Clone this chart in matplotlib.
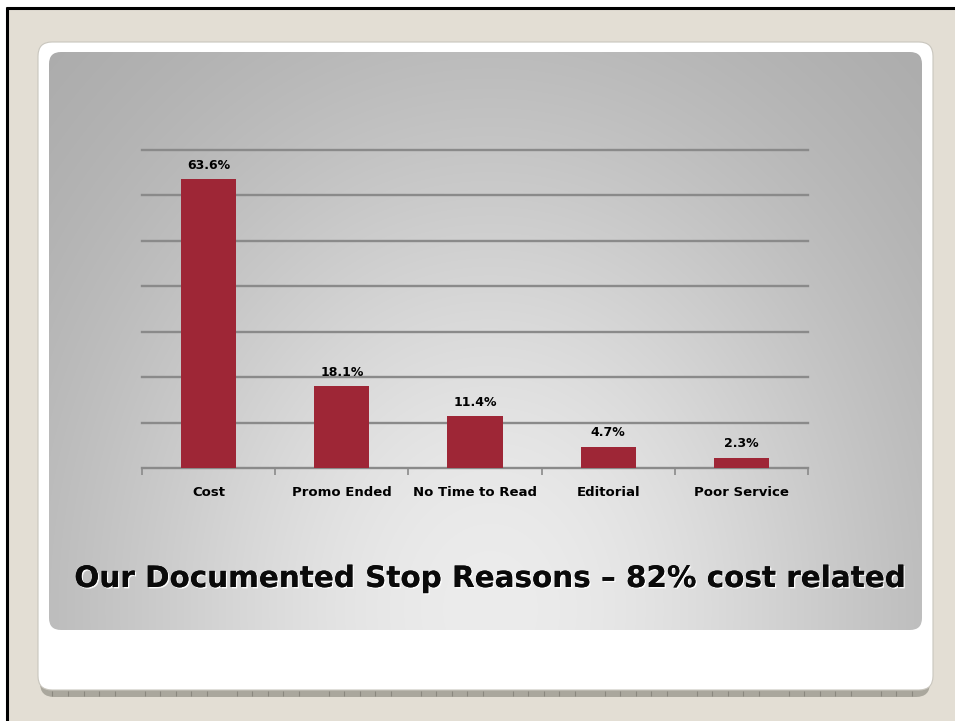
import numpy as np
import matplotlib
matplotlib.use("Agg")
import matplotlib.pyplot as plt
from matplotlib.patches import FancyBboxPatch, Rectangle
import matplotlib.patheffects as pe

# Data
categories = ["Cost", "Promo Ended", "No Time to Read", "Editorial", "Poor Service"]
values = [63.6, 18.1, 11.4, 4.7, 2.3]
value_labels = ["63.6%", "18.1%", "11.4%", "4.7%", "2.3%"]
title = "Our Documented Stop Reasons \u2013 82% cost related"

W, H = 955, 721
fig = plt.figure(figsize=(W / 100, H / 100), dpi=100)
fig.patch.set_facecolor("white")

# Background layer in pixel coordinates
bg = fig.add_axes([0, 0, 1, 1])
bg.set_xlim(0, W)
bg.set_ylim(H, 0)
bg.axis("off")

# Slide area with top/left black frame
bg.add_patch(Rectangle((6, 7), W, H, facecolor="#e3ded4", edgecolor="none", zorder=0))
bg.plot([7, 7], [7, H], color="black", lw=2.2, zorder=1, solid_capstyle="butt")
bg.plot([6, W], [8, 8], color="black", lw=2.2, zorder=1, solid_capstyle="butt")

# Card shadow strip with ruler ticks
strip = FancyBboxPatch((40, 60), 890, 637, boxstyle="round,pad=0,rounding_size=14",
                       facecolor="#aaa79d", edgecolor="none", zorder=2)
bg.add_patch(strip)
tick_x = [52, 68, 84, 99, 115, 145, 160, 176, 191, 207, 237, 252, 268, 283, 299, 329,
          344, 360, 375, 391, 421, 436, 452, 467, 483, 513, 528, 544, 559, 575, 605,
          620, 636, 651, 667, 697, 712, 728, 743, 759, 789, 804, 820, 835, 851, 881,
          896, 912]
bg.vlines(tick_x, 691, 696, color="#8a877e", lw=0.8, zorder=3)

# White card
card = FancyBboxPatch((38, 42), 895, 648, boxstyle="round,pad=0,rounding_size=14",
                      facecolor="white", edgecolor="#c9c6be", lw=0.8, zorder=4)
bg.add_patch(card)

# Grey panel with radial gradient, brightest near the lower centre
px0, py0, pw, ph = 49, 52, 873, 578
panel = FancyBboxPatch((px0, py0), pw, ph, boxstyle="round,pad=0,rounding_size=12",
                       facecolor="none", edgecolor="none", zorder=5)
bg.add_patch(panel)
xs = np.linspace(px0, px0 + pw, 400)
ys = np.linspace(py0, py0 + ph, 300)
X, Y = np.meshgrid(xs, ys)
cx, cy = 490, 610
r = np.sqrt(((X - cx) / 520) ** 2 + ((Y - cy) / 640) ** 2)
g = 0.645 + 0.28 * np.exp(-(r / 0.82) ** 2)
img = bg.imshow(np.dstack([g, g, g]), extent=(px0, px0 + pw, py0 + ph, py0),
                zorder=5, interpolation="bilinear", aspect="auto")
img.set_clip_path(panel)

# Title with a light offset shadow
bg.text(489, 579, title, ha="center", va="center", fontsize=21.2, fontweight="bold",
        color="#0a0a0a", zorder=8,
        path_effects=[pe.withSimplePatchShadow(offset=(1, -1), shadow_rgbFace="white", alpha=0.9),
                      pe.Normal()])

# Chart axes
ax_l, ax_r, ax_t, ax_b = 142, 808, 150, 468
ax = fig.add_axes([ax_l / W, 1 - ax_b / H, (ax_r - ax_l) / W, (ax_b - ax_t) / H])
ax.patch.set_alpha(0)
ax.set_zorder(10)

x = np.arange(len(categories))
ax.bar(x, values, width=0.415, color="#9e2636", zorder=3)
for xi, v, lab in zip(x, values, value_labels):
    ax.text(xi, v + 1.6, lab, ha="center", va="bottom", fontsize=9,
            fontweight="heavy", color="black", zorder=4)

ax.set_xlim(-0.5, len(categories) - 0.5)
ax.set_ylim(0, 70)
ax.set_yticks(np.arange(10, 71, 10))
ax.yaxis.grid(True, color="#8a8a8a", lw=1.7)
for gl in ax.get_ygridlines():
    gl.set_clip_on(False)
ax.set_axisbelow(True)
ax.tick_params(axis="y", left=False, labelleft=False)

ax.set_xticks(np.arange(len(categories) + 1) - 0.5, minor=False)
ax.set_xticklabels([])
ax.set_xticks(x, minor=True)
ax.set_xticklabels(categories, minor=True, fontsize=9.5, fontweight="heavy")
ax.tick_params(axis="x", which="major", length=5, width=1.2, color="#8a8a8a", direction="out")
ax.tick_params(axis="x", which="minor", length=0, pad=13)

for side in ["top", "right", "left"]:
    ax.spines[side].set_visible(False)
ax.spines["bottom"].set_color("#8a8a8a")
ax.spines["bottom"].set_linewidth(1.7)

fig.savefig("out.png", dpi=100)
